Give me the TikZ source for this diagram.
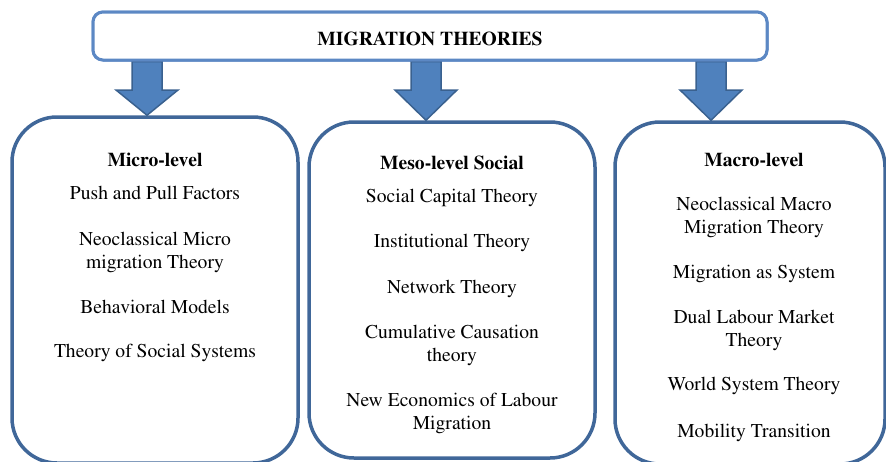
\documentclass[tikz,border=0pt]{standalone}
\usepackage[T1]{fontenc}
\usepackage{times}
\usepackage{tikz}
\usetikzlibrary{positioning}

\definecolor{bannerblue}{RGB}{92,136,196}
\definecolor{boxblue}{RGB}{64,103,153}
\definecolor{arrowfill}{RGB}{79,129,189}
\definecolor{arrowline}{RGB}{58,97,143}

\tikzset{
  banner/.style={draw=bannerblue, line width=3pt, fill=white, rounded corners=10pt,
    minimum width=674pt, minimum height=48pt, inner sep=0pt},
  levelbox/.style={draw=boxblue, line width=3.5pt, rounded corners=45pt, inner sep=0pt},
  blockarrow/.style={fill=arrowfill, draw=arrowline, line width=1.5pt, line join=miter},
  item/.style={align=center, inner sep=0pt, font=\rmfamily\fontsize{19.6}{23}\selectfont},
  head/.style={item, font=\rmfamily\fontsize{19.6}{23}\selectfont\bfseries}
}

\begin{document}
\begin{tikzpicture}[x=1pt,y=-1pt]
  \useasboundingbox (0,0) rectangle (886,461);

  % the three level boxes
  \node[levelbox, minimum width=286pt, minimum height=346pt] (micro) at (155,290) {};
  \node[levelbox, minimum width=286pt, minimum height=336pt] (meso) at (452,290) {};
  \node[levelbox, minimum width=270pt, minimum height=342pt] (macro) at (750,293) {};

  % banner on top
  \node[banner] (title) at (430,36) {};

  % block arrows down from the banner
  \foreach \x/\b in {147/micro,426/meso,711/macro}
    \draw[blockarrow] (\x-15,0 |- title.south) -- (\x-15,90) -- (\x-31,90)
      -- (\x,0 |- \b.north) -- (\x+31,90) -- (\x+15,90) -- (\x+15,0 |- title.south) -- cycle;

  \node[banner] at (title) {};
  \node[head] (titletext) at (430,39) {MIGRATION THEORIES};

  % micro-level
  \node[head] (microhead) at (155,160) {Micro-level};
  \node[item] (micro1) at (155,193) {Push and Pull Factors};
  \node[item] (micro2) at (155,252) {Neoclassical Micro\\migration Theory};
  \node[item] (micro3) at (155,307) {Behavioral Models};
  \node[item] (micro4) at (155,353) {Theory of Social Systems};

  % meso-level
  \node[head] (mesohead) at (452,163) {Meso-level Social};
  \node[item] (meso1) at (452,198) {Social Capital Theory};
  \node[item] (meso2) at (452,243) {Institutional Theory};
  \node[item] (meso3) at (452,289) {Network Theory};
  \node[item] (meso4) at (452,345) {Cumulative Causation\\theory};
  \node[item] (meso5) at (452,413) {New Economics of Labour\\Migration};

  % macro-level
  \node[head] (macrohead) at (754,160) {Macro-level};
  \node[item] (macro1) at (754,217) {Neoclassical Macro\\Migration Theory};
  \node[item] (macro2) at (754,274) {Migration as System};
  \node[item] (macro3) at (754,330) {Dual Labour Market\\Theory};
  \node[item] (macro4) at (754,386) {World System Theory};
  \node[item] (macro5) at (754,433) {Mobility Transition};
\end{tikzpicture}
\end{document}
